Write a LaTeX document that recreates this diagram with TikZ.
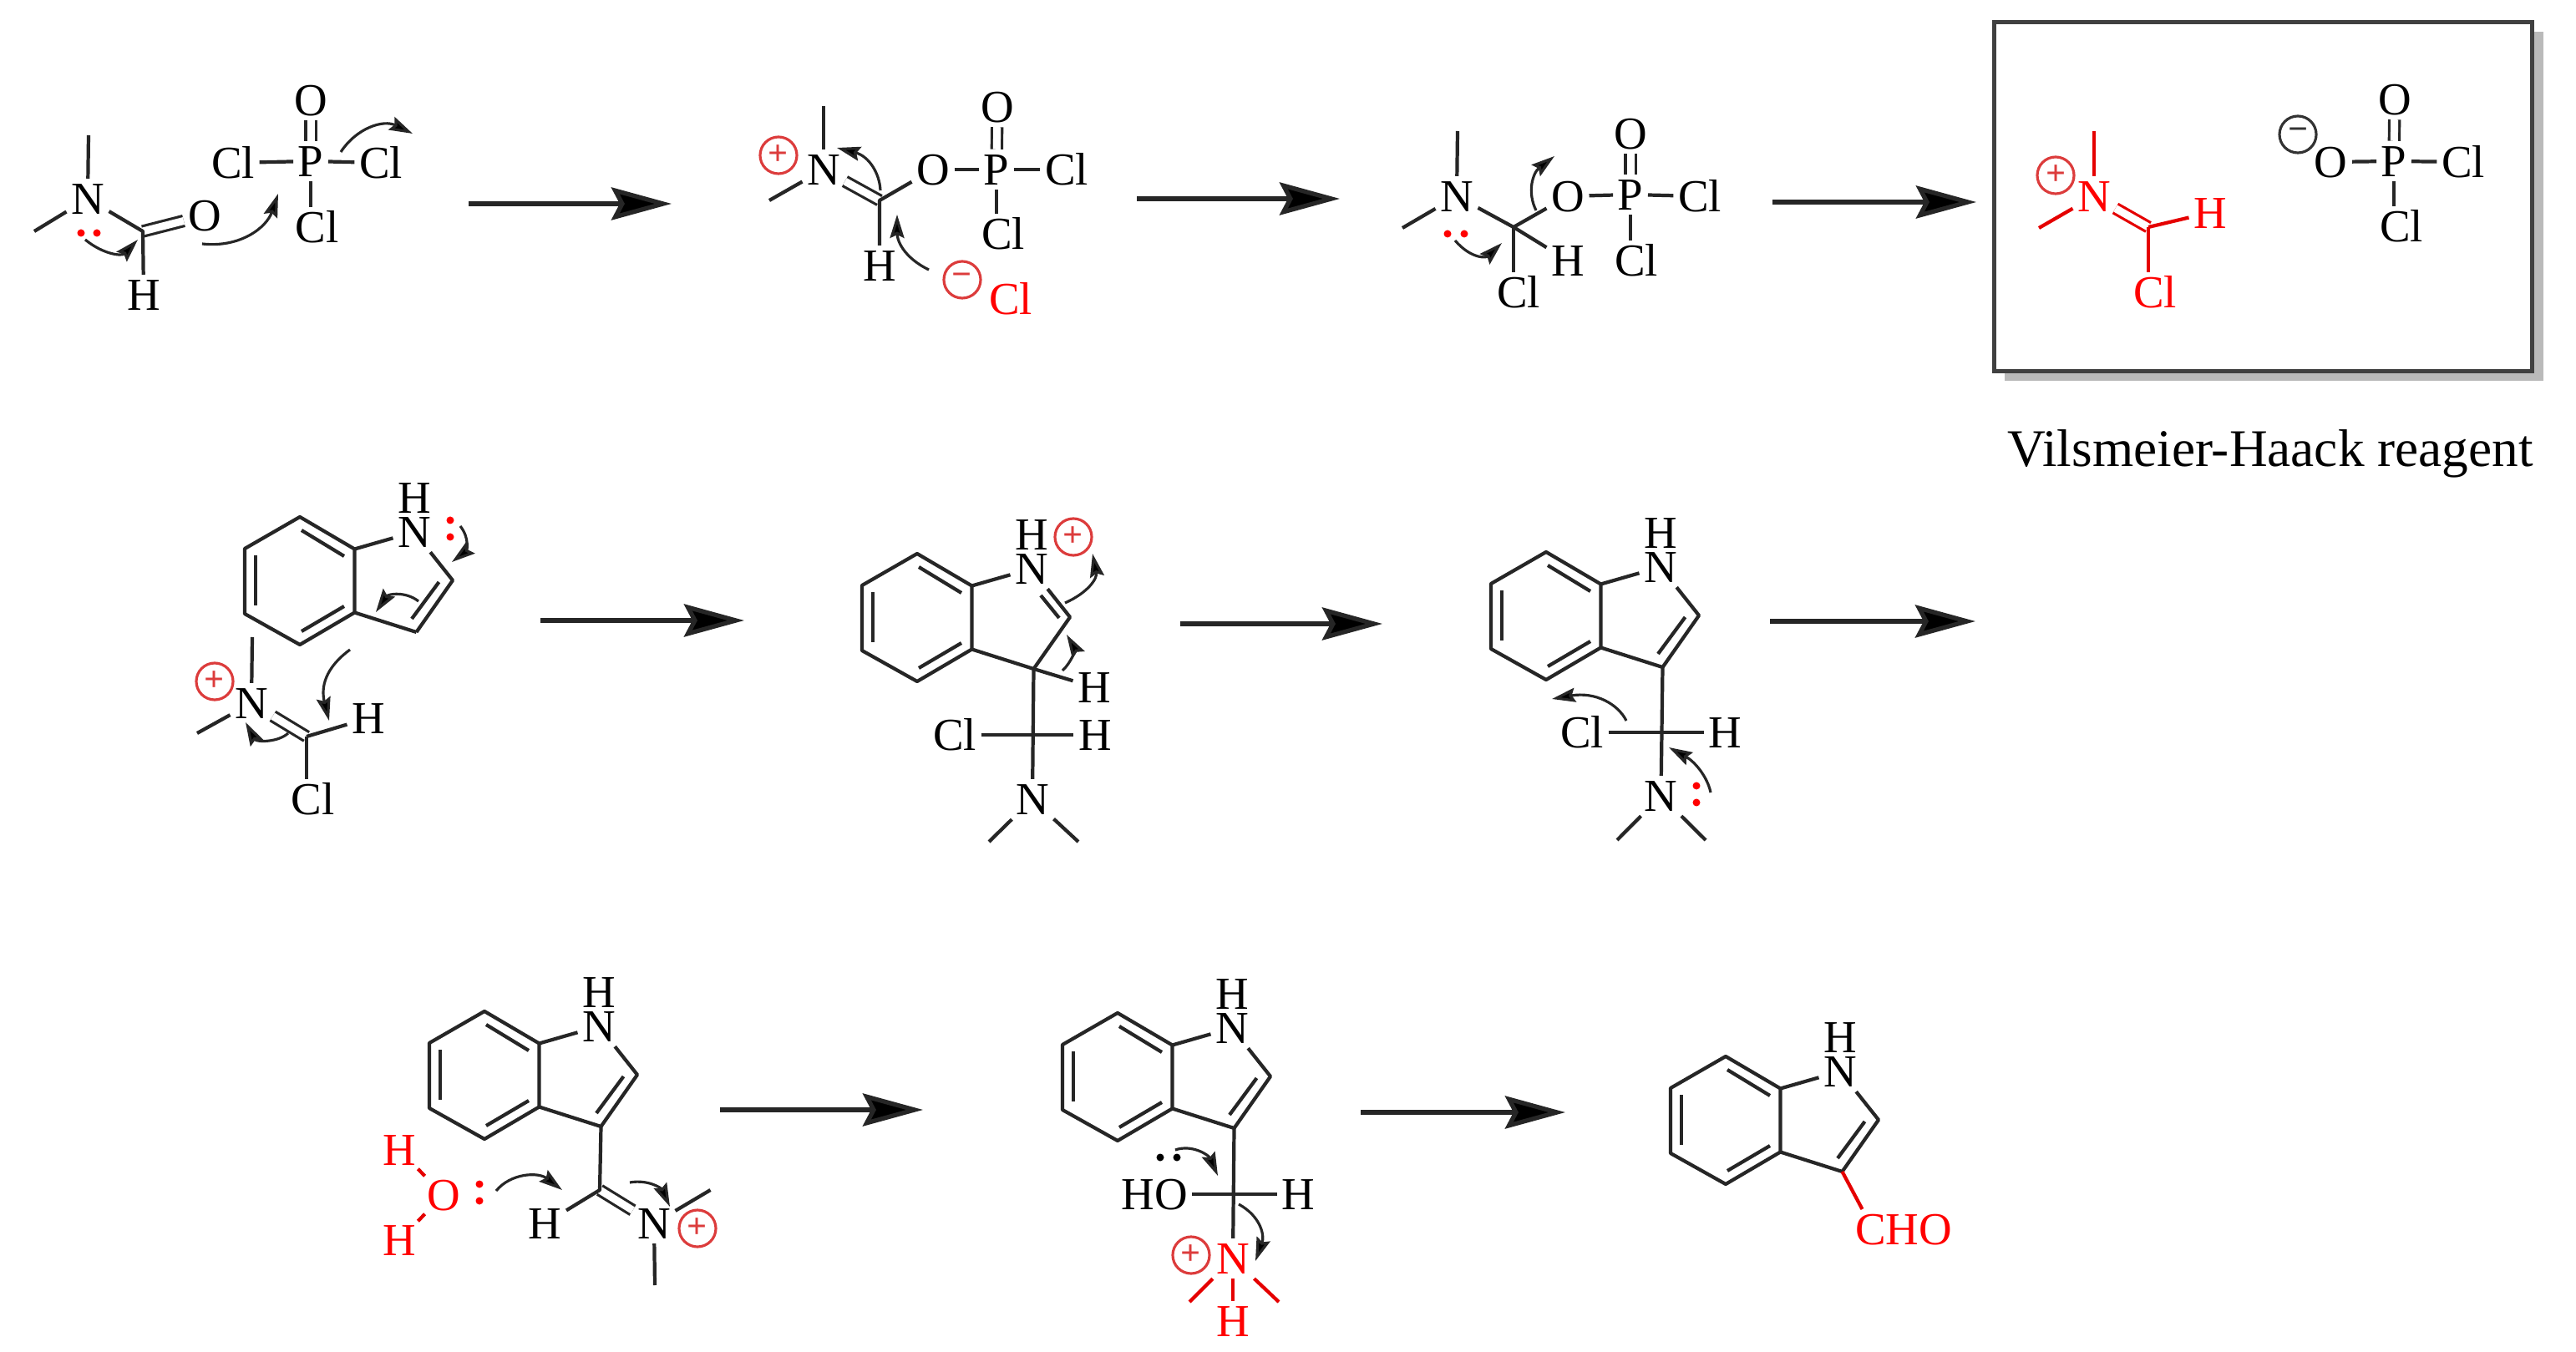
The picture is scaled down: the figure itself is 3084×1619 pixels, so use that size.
\documentclass[tikz,border=0pt]{standalone}
\usepackage{fontspec}
\setmainfont{Liberation Serif}
\usetikzlibrary{arrows.meta}
\definecolor{bondc}{HTML}{262626}
\definecolor{chgred}{HTML}{DC3C3C}
\tikzset{
  atom/.style={font=\fontsize{15.6}{18}\selectfont,inner sep=.05cm,text height=.37cm,text depth=0pt,text=black},
  redatom/.style={atom,text=red},
  bond/.style={draw=bondc,line width=1.2pt,line join=round},
  redbond/.style={draw=red!90!black,line width=1.2pt,line join=round},
  dbl/.style={bond,double=white,double distance=.09cm,line width=.9pt},
  reddbl/.style={redbond,double=white,double distance=.09cm,line width=.9pt},
  chg/.style={circle,minimum size=.44cm,inner sep=0pt,line width=.9pt,font=\fontsize{12}{14}\selectfont\bfseries},
  curved/.style={draw=bondc,line width=.9pt,-{Stealth[length=.28cm,width=.17cm,inset=.04cm,fill=black]}},
  rxnline/.style={draw=bondc,line width=1.5pt,-{Stealth[length=.72cm,width=.39cm,inset=.10cm,fill=black]}},
}
\newcommand{\rxnarrow}[4]{\coordinate (#1s) at (#2,#4); \coordinate (#1e) at (#3,#4); \draw[rxnline] (#1s) -- (#1e);}
\newcommand{\curly}[5]{\coordinate (#1s) at (#2); \coordinate (#1e) at (#5); \draw[curved] (#1s) .. controls (#3) and (#4) .. (#1e);}
\newcommand{\elecpair}[5]{\fill[#5] (#1,#2) circle (.045cm); \fill[#5] (#3,#4) circle (.045cm);}
\newcommand{\charge}[5]{\node[chg,draw=#5,text=#5] (#1) at (#2,#3) {#4};}
\newcommand{\indole}[3]{%
  \begin{scope}[shift={(#2,#3)}]
    \coordinate (#1t) at (0,0);
    \coordinate (#1ur) at (65.5,38.5);
    \coordinate (#1lr) at (65.5,114.5);
    \coordinate (#1b) at (0,153);
    \coordinate (#1ll) at (-66,116);
    \coordinate (#1ul) at (-66,38);
    \coordinate (#1ia) at (2,16); \coordinate (#1ib) at (53,47);
    \coordinate (#1ic) at (-53,46); \coordinate (#1id) at (-53,106);
    \coordinate (#1ie) at (2,137); \coordinate (#1if) at (53,107);
    \coordinate (#1C2) at (183,76);
    \coordinate (#1C3) at (139.5,138);
    \node[atom] (#1N) at (137,18) {N};
    \node[atom] (#1H) at (137,-23) {H};
    \draw[bond] (#1t) -- (#1ur) -- (#1lr) -- (#1b) -- (#1ll) -- (#1ul) -- cycle;
    \draw[bond] (#1ia) -- (#1ib);
    \draw[bond] (#1ic) -- (#1id);
    \draw[bond] (#1ie) -- (#1if);
    \draw[bond] (#1ur) -- (#1N);
    \draw[bond] (#1lr) -- (#1C3);
  \end{scope}}
\newcommand{\indoleCC}[3]{% aromatic five ring: N-C2, C2=C3
  \begin{scope}[shift={(#2,#3)}]
    \coordinate (#1ig) at (166.5,78); \coordinate (#1ih) at (134,122);
    \draw[bond] (#1N) -- (#1C2) -- (#1C3);
    \draw[bond] (#1ig) -- (#1ih);
  \end{scope}}
\begin{document}
\begin{tikzpicture}[x=.01cm,y=-.01cm]
\path[use as bounding box,fill=white] (0,0) rectangle (3084,1619);

%% ---------- reaction arrows
\rxnarrow{ra}{561}{804}{244}
\rxnarrow{rb}{1361}{1604}{238}
\rxnarrow{rc}{2122}{2366}{242}
\rxnarrow{rd}{647}{891}{743}
\rxnarrow{re}{1413}{1655}{747}
\rxnarrow{rf}{2119}{2365}{744}
\rxnarrow{rg}{862}{1105}{1329}
\rxnarrow{rh}{1629}{1874}{1332}

%% ---------- molecule 1: DMF + POCl3
\node[atom] (aN) at (105,238) {N};
\node[atom] (aH) at (172,353) {H};
\node[atom] (aO) at (245.5,258) {O};
\coordinate (aC) at (171,277);
\coordinate (am1) at (106,162);
\coordinate (am2) at (41,277);
\draw[bond] (aN) -- (am1);
\draw[bond] (aN) -- (am2);
\draw[dbl] (aC) -- (aO);
\draw[bond] (aN) -- (aC) -- (aH);
\node[atom] (aP) at (372,193) {P};
\node[atom] (aO2) at (372,120) {O};
\node[atom] (aCl1) at (279,195) {Cl};
\node[atom] (aCl2) at (456,195) {Cl};
\node[atom] (aCl3) at (379.5,272) {Cl};
\draw[dbl] (aP) -- (aO2);
\draw[bond] (aP) -- (aCl1);
\draw[bond] (aP) -- (aCl2);
\draw[bond] (aP) -- (aP |- aCl3.north);
\elecpair{97}{279}{116}{279}{red}
\curly{aa}{102,287}{124,305}{146,307}{165,287}
\curly{ab}{242,292}{287,297}{319,273}{333,232}
\curly{ac}{408,182}{427,153}{459,143}{494,160}

%% ---------- molecule 2
\node[atom] (bN) at (986,203) {N};
\charge{bp}{932}{186}{+}{chgred}
\coordinate (bC) at (1053,240);
\coordinate (bm1) at (986,127);
\coordinate (bm2) at (921,240);
\node[atom] (bO) at (1117,203) {O};
\node[atom] (bH) at (1053,318) {H};
\node[atom] (bP) at (1193,203) {P};
\node[atom] (bO2) at (1194,128) {O};
\node[atom] (bCl1) at (1277,203) {Cl};
\node[atom] (bCl2) at (1201,280) {Cl};
\node[redatom] (bCl3) at (1210,358) {Cl};
\charge{bm}{1152}{335}{−}{chgred}
\draw[bond] (bN) -- (bm1);
\draw[bond] (bN) -- (bm2);
\draw[dbl] (bN) -- (bC);
\draw[bond] (bO) -- (bC) -- (bH);
\draw[bond] (bO) -- (bP) -- (bCl1);
\draw[dbl] (bP) -- (bO2);
\draw[bond] (bP) -- (bP |- bCl2.north);
\curly{ba}{1054,228}{1053,207}{1040,187}{1002,177}
\curly{bb}{1112,323}{1081,308}{1074,287}{1074,257}

%% ---------- molecule 3
\node[atom] (cN) at (1744,235) {N};
\coordinate (cC) at (1812,272);
\coordinate (cm1) at (1745,157);
\coordinate (cm2) at (1679,273);
\node[atom] (cO) at (1877,235) {O};
\node[atom] (cH) at (1877,312) {H};
\node[atom] (cCl) at (1818,350) {Cl};
\node[atom] (cP) at (1952,233) {P};
\node[atom] (cO2) at (1952,160) {O};
\node[atom] (cCl1) at (2035,235) {Cl};
\node[atom] (cCl2) at (1959,312) {Cl};
\draw[bond] (cN) -- (cm1);
\draw[bond] (cN) -- (cm2);
\draw[bond] (cN) -- (cC) -- (cO);
\draw[bond] (cC) -- (cH);
\draw[bond] (cC) -- (cC |- cCl.north);
\draw[bond] (cO) -- (cP) -- (cCl1);
\draw[dbl] (cP) -- (cO2);
\draw[bond] (cP) -- (cP |- cCl2.north);
\elecpair{1733}{280}{1753}{280}{red}
\curly{ca}{1742,288}{1761,310}{1779,309}{1798,291}
\curly{cb}{1839,252}{1828,230}{1835,207}{1861,187}

%% ---------- boxed Vilsmeier-Haack reagent
\node[rectangle,fill=black!27,minimum width=6.44cm,minimum height=4.17cm,inner sep=0pt] (shadow) at (2722.5,247) {};
\node[rectangle,draw=black!75,fill=white,line width=1.4pt,minimum width=6.44cm,minimum height=4.17cm,inner sep=0pt] (vbox) at (2709.5,235.5) {};
\node[redatom] (vN) at (2507,235) {N};
\charge{vp}{2461}{210}{+}{chgred}
\coordinate (vC) at (2572,272);
\coordinate (vm1) at (2507,157);
\coordinate (vm2) at (2441,273);
\node[redatom] (vH) at (2646,254.5) {H};
\node[redatom] (vCl) at (2580,350) {Cl};
\draw[redbond] (vN) -- (vm1);
\draw[redbond] (vN) -- (vm2);
\draw[reddbl] (vN) -- (vC);
\draw[redbond] (vC) -- (vH);
\draw[redbond] (vC) -- (vC |- vCl.north);
\node[atom] (wO) at (2790.5,194) {O};
\charge{wm}{2751}{161}{−}{black!80}
\node[atom] (wP) at (2866,193) {P};
\node[atom] (wO2) at (2867,119) {O};
\node[atom] (wCl1) at (2949,194) {Cl};
\node[atom] (wCl2) at (2875,271) {Cl};
\draw[bond] (wO) -- (wP) -- (wCl1);
\draw[dbl] (wP) -- (wO2);
\draw[bond] (wP) -- (wP |- wCl2.north);
\node[font=\fontsize{18}{21}\selectfont,inner sep=0pt] (vlabel) at (2718,543) {Vilsmeier-Haack reagent};

%% ---------- molecule 4: indole + iminium
\indole{d}{359}{619}
\indoleCC{d}{359}{619}
\elecpair{539}{623}{539}{643}{red}
\curly{da}{551,630}{563,645}{558,660}{541,673}
\curly{db}{501,720}{486,708}{465,711}{450,733}
\node[atom] (eN) at (301,842) {N};
\charge{ep}{257}{816}{+}{chgred}
\coordinate (eC) at (367,882);
\coordinate (em1) at (302,763);
\coordinate (em2) at (236,878);
\node[atom] (eH) at (441,860) {H};
\node[atom] (eCl) at (374.5,957) {Cl};
\draw[bond] (eN) -- (em1);
\draw[bond] (eN) -- (em2);
\draw[dbl] (eN) -- (eC);
\draw[bond] (eC) -- (eH);
\draw[bond] (eC) -- (eC |- eCl.north);
\curly{ea}{419,778}{389,800}{384,823}{394,863}
\curly{eb}{345,878}{333,889}{307,889}{294,865}

%% ---------- molecule 5
\indole{f}{1098}{663}
\node[atom] (fHa) at (1310,823) {H};
\coordinate (fX) at (1239,878);
\node[atom] (fCl) at (1143,880) {Cl};
\node[atom] (fHb) at (1311,880) {H};
\node[atom] (fNb) at (1236,957) {N};
\coordinate (fm1) at (1184,1008);
\coordinate (fm2) at (1291,1008);
\charge{fp}{1285}{643}{+}{chgred}
\coordinate (fia) at (1246,713); \coordinate (fib) at (1268,740);
\draw[bond] (fN) -- (fC2) -- (fC3);
\draw[bond] (fia) -- (fib);
\draw[bond] (fC3) -- (fHa);
\draw[bond] (fCl) -- (fHb);
\draw[bond] (fC3) -- (fNb);
\draw[bond] (fNb) -- (fm1);
\draw[bond] (fNb) -- (fm2);
\curly{fa}{1275,722}{1302,710}{1314,693}{1308,663}
\curly{fb}{1272,803}{1283,793}{1287,777}{1277,760}

%% ---------- molecule 6
\indole{g}{1851}{661}
\indoleCC{g}{1851}{661}
\node[atom] (gCl) at (1894,877) {Cl};
\node[atom] (gHb) at (2065,877) {H};
\node[atom] (gNb) at (1988.5,953) {N};
\coordinate (gm1) at (1936,1006);
\coordinate (gm2) at (2042,1006);
\draw[bond] (gCl) -- (gHb);
\draw[bond] (gC3) -- (gNb);
\draw[bond] (gNb) -- (gm1);
\draw[bond] (gNb) -- (gm2);
\elecpair{2031}{941}{2031}{961}{red}
\curly{ga}{2048,949}{2044,930}{2029,912}{1998,895}
\curly{gb}{1947,863}{1937,843}{1910,828}{1858,837}

%% ---------- molecule 7
\indole{h}{580}{1211}
\indoleCC{h}{580}{1211}
\coordinate (hC) at (718,1425);
\node[atom] (hHb) at (652.5,1465) {H};
\node[atom] (hNb) at (783,1465) {N};
\charge{hp}{835}{1471}{+}{chgred}
\coordinate (hm1) at (850.5,1425);
\coordinate (hm2) at (784,1539);
\draw[dbl] (hC) -- (hNb);
\draw[bond] (hC3) -- (hC) -- (hHb);
\draw[bond] (hNb) -- (hm1);
\draw[bond] (hNb) -- (hm2);
\node[redatom] (wtO) at (531,1431) {O};
\node[redatom] (wtH1) at (478,1377) {H};
\node[redatom] (wtH2) at (478,1485) {H};
\draw[redbond,shorten <=-.02cm,shorten >=-.02cm] (wtO) -- (wtH1);
\draw[redbond,shorten <=-.02cm,shorten >=-.02cm] (wtO) -- (wtH2);
\elecpair{574}{1418}{574}{1438}{red}
\curly{ha}{594,1426}{611,1405}{644,1403}{673,1425}
\curly{hb}{754,1416}{776,1412}{792,1423}{802,1445}

%% ---------- molecule 8
\indole{i}{1338}{1213}
\indoleCC{i}{1338}{1213}
\node[atom] (iHO) at (1382,1430) {HO};
\node[atom] (iHb) at (1554.5,1430) {H};
\node[redatom] (iNb) at (1476,1507) {N};
\charge{ip}{1426}{1503}{+}{chgred}
\coordinate (im1) at (1424,1559);
\coordinate (im2) at (1531,1559);
\node[redatom] (iHc) at (1476,1582) {H};
\draw[bond] (iHO) -- (iHb);
\draw[bond] (iC3) -- (iNb);
\draw[redbond] (iNb) -- (im1);
\draw[redbond] (iNb) -- (im2);
\draw[redbond] (iNb) -- (iHc);
\elecpair{1389}{1386}{1409}{1386}{black}
\curly{ia}{1407,1377}{1427,1370}{1447,1383}{1458,1408}
\curly{ib}{1483,1442}{1510,1457}{1514,1480}{1503,1510}

%% ---------- molecule 9: product
\indole{j}{2066}{1265}
\indoleCC{j}{2066}{1265}
\node[redatom] (jCHO) at (2279,1472) {CHO};
\coordinate (jT) at (2229.5,1448);
\draw[redbond] (jC3) -- (jT);
\end{tikzpicture}
\end{document}
